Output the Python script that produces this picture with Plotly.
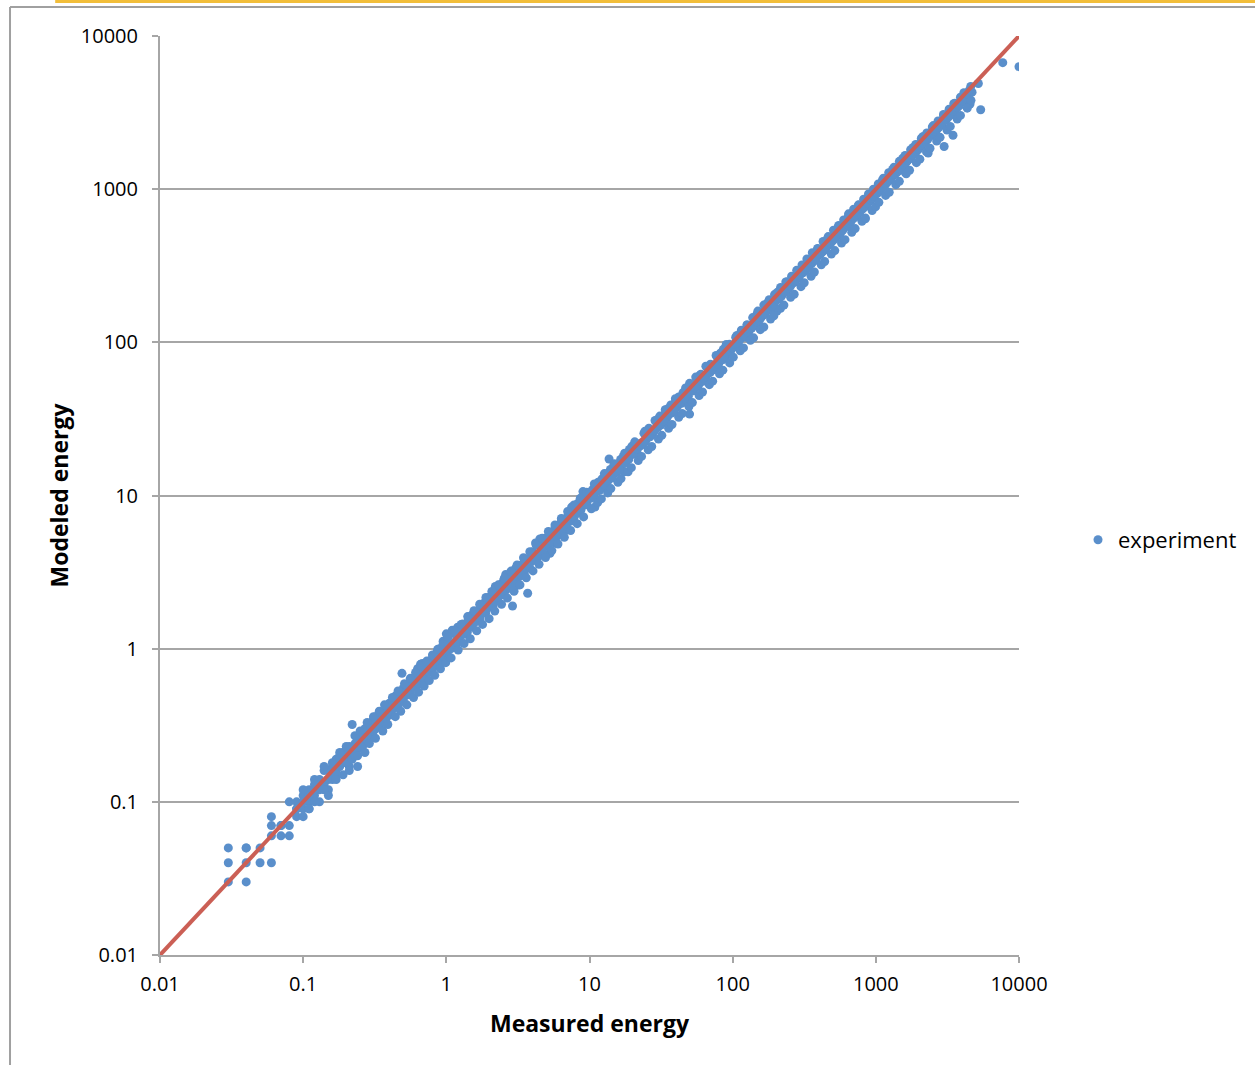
import plotly.graph_objects as go

# Measured vs. modeled energy, one entry per experiment run
measured_energy = [
    # 0.01 - 0.1
    0.03, 0.03, 0.03, 0.04, 0.04, 0.04, 0.04, 0.05, 0.05, 0.06, 0.06, 0.06, 0.06,
    0.07, 0.07, 0.07, 0.08, 0.08, 0.08, 0.09, 0.09, 0.09,
    # 0.1 - 1
    0.10, 0.10, 0.10, 0.11, 0.11, 0.11, 0.12, 0.12, 0.13, 0.13, 0.14, 0.14, 0.15, 0.15,
    0.16, 0.16, 0.17, 0.17, 0.18, 0.18, 0.19, 0.19, 0.20, 0.20, 0.21, 0.21, 0.22, 0.22,
    0.23, 0.23, 0.24, 0.24, 0.25, 0.26, 0.26, 0.27, 0.28, 0.28, 0.29, 0.30, 0.30, 0.31,
    0.32, 0.33, 0.33, 0.34, 0.35, 0.36, 0.37, 0.38, 0.39, 0.40, 0.41, 0.42, 0.43, 0.44,
    0.45, 0.46, 0.47, 0.48, 0.49, 0.50, 0.51, 0.53, 0.55, 0.57, 0.58, 0.60, 0.62, 0.63,
    0.65, 0.66, 0.67, 0.68, 0.70, 0.72, 0.74, 0.75, 0.77, 0.79, 0.80, 0.82, 0.84, 0.86,
    0.88, 0.90, 0.92, 0.95, 0.97, 0.99,
    0.09, 0.10, 0.11, 0.12, 0.13, 0.12, 0.14, 0.15, 0.16, 0.17, 0.18, 0.19, 0.20, 0.21,
    0.22, 0.23, 0.24, 0.25, 0.26, 0.27, 0.28, 0.29, 0.30, 0.31, 0.32, 0.34, 0.35, 0.36,
    0.38, 0.40, 0.41, 0.43, 0.44, 0.46, 0.48, 0.50, 0.52, 0.54, 0.56, 0.58, 0.60, 0.62,
    0.64, 0.66, 0.68, 0.70, 0.73, 0.76, 0.78, 0.81, 0.83, 0.85, 0.88, 0.90, 0.93, 0.96,
    0.98,
    0.10, 0.11, 0.12, 0.13, 0.14, 0.15, 0.16, 0.17, 0.18, 0.19, 0.20, 0.21, 0.23, 0.24,
    0.25, 0.27, 0.28, 0.29, 0.31, 0.32, 0.34, 0.36, 0.37, 0.39, 0.42, 0.44, 0.46, 0.48,
    0.51, 0.53, 0.56, 0.59, 0.61, 0.64, 0.67, 0.70, 0.73, 0.76, 0.80, 0.83, 0.87, 0.91,
    0.95, 0.99,
    # 1 - 10
    1.0, 1.0, 1.05, 1.1, 1.12, 1.18, 1.2, 1.25, 1.3, 1.32, 1.38, 1.42, 1.45, 1.5, 1.55,
    1.6, 1.65, 1.7, 1.75, 1.8, 1.85, 1.9, 1.95, 2.0, 2.1, 2.15, 2.2, 2.25, 2.3, 2.4,
    2.5, 2.55, 2.6, 2.7, 2.8, 2.9, 2.9, 3.0, 3.1, 3.2, 3.3, 3.4, 3.5, 3.6, 3.7, 3.75,
    3.9, 4.0, 4.2, 4.3, 4.5, 4.6, 4.8, 5.0, 5.1, 5.3, 5.5, 5.6, 5.8, 6.0, 6.2, 6.4,
    6.6, 6.8, 7.0, 7.2, 7.5, 7.7, 8.0, 8.3, 8.5, 8.8, 9.0, 9.3, 9.6, 9.8,
    1.02, 1.08, 1.15, 1.2, 1.28, 1.35, 1.4, 1.48, 1.52, 1.6, 1.68, 1.72, 1.8, 1.88,
    1.95, 2.05, 2.12, 2.2, 2.3, 2.35, 2.45, 2.6, 2.65, 2.75, 2.85, 3.0, 3.05, 3.2,
    3.35, 3.5, 3.65, 3.8, 4.0, 4.1, 4.4, 4.5, 4.7, 4.9, 5.2, 5.4, 5.7, 5.9, 6.1, 6.3,
    6.5, 6.9, 7.1, 7.4, 7.8, 8.1, 8.4, 8.7, 9.1, 9.5,
    1.03, 1.08, 1.14, 1.21, 1.27, 1.33, 1.41, 1.47, 1.56, 1.63, 1.71, 1.79, 1.89, 1.99,
    2.08, 2.18, 2.31, 2.43, 2.54, 2.67, 2.83, 2.97, 3.12, 3.27, 3.46, 3.62, 3.83, 4.03,
    4.24, 4.44, 4.67, 4.93, 5.16, 5.46, 5.74, 6.02, 6.36, 6.67, 7.04, 7.38, 7.8, 8.21,
    8.62, 9.1, 9.54,
    # 10 - 100
    10.2, 10.5, 10.9, 11.2, 11.5, 12.0, 12.5, 13.0, 13.3, 13.5, 13.7, 14.2, 14.7, 15.0,
    16.0, 16.5, 17.0, 17.5, 18.0, 18.5, 19.0, 19.5, 20.0, 21.0, 21.5, 22.0, 23.0, 24.0,
    25.0, 26.0, 27.0, 28.0, 29.0, 30.0, 31.0, 32.0, 33.0, 34.0, 35.0, 36.0, 37.0, 38.0,
    40.0, 41.0, 43.0, 45.0, 46.0, 48.0, 50.0, 50.0, 52.0, 54.0, 56.0, 58.0, 60.0, 62.0,
    64.0, 66.0, 68.0, 70.0, 72.0, 75.0, 78.0, 80.0, 83.0, 86.0, 88.0, 92.0, 95.0, 98.0,
    10.0, 10.7, 11.0, 11.8, 12.2, 12.8, 13.5, 14.0, 14.5, 15.5, 16.2, 17.2, 17.8, 18.8,
    19.8, 20.5, 21.5, 22.5, 23.5, 24.5, 25.5, 26.5, 27.5, 28.5, 30.0, 31.5, 33.5, 35.5,
    37.5, 39.0, 42.0, 44.0, 47.0, 49.0, 51.0, 53.0, 55.0, 57.0, 59.0, 61.0, 63.0, 65.0,
    67.0, 70.0, 73.0, 76.0, 79.0, 82.0, 85.0, 89.0, 93.0, 96.0,
    10.3, 10.8, 11.4, 12.1, 12.7, 13.4, 14.1, 14.9, 15.8, 16.6, 17.6, 18.6, 19.6, 20.7,
    21.9, 23.1, 24.4, 25.7, 27.2, 28.7, 30.3, 32.0, 33.8, 35.7, 37.7, 39.8, 42.0, 44.4,
    46.9, 49.5, 52.3, 55.2, 58.3, 61.6, 65.0, 68.7, 72.5, 76.6, 80.9, 85.4, 90.2, 95.3,
    # 100 - 1000
    102, 105, 108, 112, 115, 118, 122, 126, 130, 134, 138, 142, 146, 150, 155, 160,
    165, 170, 175, 180, 185, 190, 196, 200, 204, 210, 216, 222, 228, 235, 242, 250,
    258, 265, 272, 280, 288, 296, 305, 314, 322, 330, 340, 350, 360, 370, 380, 392,
    404, 416, 428, 440, 452, 465, 478, 492, 506, 520, 535, 550, 565, 580, 596, 612,
    628, 645, 662, 680, 700, 718, 738, 758, 778, 800, 822, 845, 845, 868, 890, 914,
    938, 962, 988,
    100, 104, 110, 114, 120, 124, 128, 132, 136, 140, 144, 148, 153, 158, 163, 168,
    172, 178, 183, 188, 194, 198, 207, 213, 219, 225, 232, 238, 246, 254, 262, 270,
    277, 284, 292, 300, 310, 318, 326, 335, 345, 355, 365, 375, 386, 398, 410, 422,
    434, 446, 458, 472, 485, 500, 512, 528, 542, 558, 572, 588, 604, 620, 636, 654,
    672, 690, 708, 728, 748, 768, 790, 811, 833, 856, 880, 902, 926, 950, 975,
    101, 107, 113, 119, 126, 133, 140, 148, 156, 165, 174, 184, 194, 205, 216, 228,
    241, 254, 269, 284, 300, 316, 334, 353, 372, 393, 416, 439, 463, 489, 517, 546,
    576, 609, 643, 679, 717, 757, 800, 844, 892, 942, 995,
    # 1000 - 10000
    1010, 1040, 1070, 1100, 1130, 1160, 1200, 1230, 1270, 1300, 1340, 1380, 1420, 1460,
    1500, 1550, 1600, 1600, 1650, 1700, 1750, 1800, 1850, 1900, 1960, 2020, 2080, 2140,
    2200, 2270, 2320, 2340, 2410, 2480, 2560, 2640, 2720, 2800, 2880, 3000, 2970, 3060,
    3150, 3250, 3350, 3460, 3450, 3560, 3670, 3780, 3900, 4020, 4150, 4400, 4400, 4550,
    4700, 5200, 5400, 7700, 10000,
    1000, 1025, 1055, 1085, 1115, 1145, 1175, 1215, 1250, 1285, 1320, 1360, 1400, 1440,
    1480, 1525, 1575, 1625, 1675, 1725, 1775, 1825, 1875, 1930, 1990, 2050, 2110, 2170,
    2240, 2300, 2380, 2450, 2520, 2600, 2680, 2760, 2840, 2920, 3100, 3200, 3300, 3400,
    3500, 3620, 3720, 3840, 3960, 4080, 4250, 4300, 4480, 4620,
    1050, 1110, 1170, 1240, 1310, 1380, 1460, 1540, 1630, 1720, 1820, 1920, 2030, 2140,
    2260, 2390, 2520, 2660, 2810, 2970, 3140, 3310, 3500, 3700, 3900, 4120, 4350, 4600,
]

modeled_energy = [
    # 0.01 - 0.1
    0.05, 0.04, 0.03, 0.05, 0.05, 0.04, 0.03, 0.05, 0.04, 0.04, 0.08, 0.07, 0.06,
    0.07, 0.06, 0.07, 0.10, 0.07, 0.06, 0.10, 0.08, 0.09,
    # 0.1 - 1
    0.11, 0.09, 0.10, 0.10, 0.12, 0.09, 0.11, 0.14, 0.12, 0.14, 0.13, 0.16, 0.14, 0.12,
    0.15, 0.17, 0.19, 0.16, 0.17, 0.20, 0.18, 0.21, 0.19, 0.22, 0.17, 0.20, 0.32, 0.21,
    0.24, 0.22, 0.17, 0.25, 0.23, 0.27, 0.25, 0.26, 0.31, 0.27, 0.28, 0.32, 0.29, 0.35,
    0.30, 0.34, 0.31, 0.38, 0.33, 0.37, 0.35, 0.41, 0.37, 0.38, 0.43, 0.40, 0.46, 0.42,
    0.48, 0.44, 0.50, 0.45, 0.69, 0.55, 0.49, 0.56, 0.52, 0.62, 0.56, 0.65, 0.60, 0.74,
    0.63, 0.79, 0.70, 0.80, 0.67, 0.78, 0.71, 0.81, 0.74, 0.85, 0.77, 0.90, 0.81, 0.95,
    0.84, 1.00, 0.88, 1.12, 0.93, 1.05,
    0.09, 0.08, 0.11, 0.12, 0.13, 0.10, 0.12, 0.16, 0.14, 0.15, 0.19, 0.20, 0.18, 0.23,
    0.19, 0.20, 0.22, 0.27, 0.23, 0.30, 0.25, 0.32, 0.27, 0.29, 0.36, 0.31, 0.38, 0.33,
    0.35, 0.44, 0.37, 0.41, 0.49, 0.42, 0.52, 0.46, 0.58, 0.50, 0.52, 0.64, 0.56, 0.68,
    0.59, 0.62, 0.74, 0.64, 0.80, 0.70, 0.82, 0.75, 0.88, 0.78, 0.93, 0.82, 0.98, 0.88,
    1.10,
    0.12, 0.09, 0.13, 0.10, 0.17, 0.11, 0.18, 0.14, 0.21, 0.15, 0.23, 0.16, 0.27, 0.20,
    0.29, 0.21, 0.33, 0.24, 0.36, 0.26, 0.39, 0.29, 0.43, 0.32, 0.48, 0.36, 0.53, 0.39,
    0.59, 0.43, 0.64, 0.48, 0.70, 0.52, 0.77, 0.57, 0.83, 0.62, 0.91, 0.67, 0.99, 0.74,
    1.07, 0.81,
    # 1 - 10
    1.25, 0.97, 0.88, 1.32, 1.08, 1.15, 1.38, 1.2, 1.45, 1.26, 1.35, 1.52, 1.4, 1.65, 1.48,
    1.72, 1.58, 1.62, 1.9, 1.74, 2.0, 1.8, 2.15, 1.92, 2.25, 2.0, 2.55, 2.15, 2.45, 2.3,
    2.75, 2.4, 3.05, 2.55, 2.95, 1.9, 2.75, 3.2, 2.9, 2.6, 3.5, 3.2, 3.1, 3.85, 2.3, 3.55,
    4.0, 3.75, 4.9, 4.1, 5.2, 4.3, 4.6, 5.3, 4.7, 4.2, 5.7, 5.1, 4.9, 6.3, 5.8, 7.0,
    6.1, 5.9, 7.2, 6.8, 8.4, 7.0, 7.6, 8.9, 7.9, 8.4, 10.6, 9.0, 8.8, 10.2,
    1.1, 1.0, 1.25, 1.1, 1.35, 1.24, 1.28, 1.55, 1.38, 1.5, 1.78, 1.56, 1.9, 1.7,
    1.85, 2.2, 1.9, 2.05, 2.15, 2.6, 2.25, 2.4, 2.85, 2.5, 2.6, 2.8, 3.35, 2.95,
    3.0, 3.7, 3.35, 3.45, 4.3, 3.8, 4.0, 4.8, 4.3, 5.1, 4.8, 5.0, 6.0, 5.4, 5.6, 6.6,
    6.0, 6.3, 7.5, 6.8, 7.2, 8.5, 7.7, 8.0, 9.5, 8.7,
    1.19, 0.87, 1.31, 0.98, 1.44, 1.08, 1.62, 1.16, 1.77, 1.31, 1.95, 1.44, 2.16, 1.57,
    2.36, 1.76, 2.61, 1.95, 2.88, 2.14, 3.21, 2.37, 3.52, 2.61, 3.92, 2.9, 4.3, 3.22,
    4.76, 3.56, 5.25, 3.94, 5.82, 4.37, 6.43, 4.82, 7.08, 5.33, 7.86, 5.91, 8.68, 6.55,
    9.58, 7.25, 10.5,
    # 10 - 100
    9.6, 10.9, 8.4, 10.6, 12.2, 11.3, 11.8, 13.8, 12.4, 11.0, 17.3, 13.0, 15.5, 14.0,
    15.1, 17.2, 16.0, 14.3, 18.8, 17.1, 20.0, 18.4, 19.2, 22.0, 19.9, 18.3, 22.0, 25.5,
    23.3, 27.5, 25.4, 26.2, 30.5, 27.8, 33.0, 29.5, 31.0, 36.0, 32.5, 34.0, 39.0, 35.0,
    42.0, 38.0, 40.0, 47.0, 43.0, 45.0, 34.0, 54.0, 48.0, 50.0, 58.0, 53.0, 62.0, 57.0,
    56.0, 62.0, 63.0, 72.0, 66.0, 68.0, 80.0, 73.0, 78.0, 90.0, 82.0, 85.0, 97.0, 90.0,
    10.5, 9.8, 11.5, 10.8, 12.8, 11.7, 12.5, 14.8, 13.3, 14.3, 14.8, 18.0, 16.3, 17.2,
    21.0, 18.6, 20.2, 21.0, 21.5, 22.5, 26.5, 24.2, 25.2, 26.5, 31.5, 28.8, 30.5, 37.0,
    34.5, 35.5, 44.0, 40.0, 42.5, 44.5, 53.0, 48.5, 50.5, 52.0, 61.0, 55.5, 58.0, 59.5,
    69.0, 64.0, 66.5, 70.0, 72.0, 85.0, 77.0, 81.0, 95.0, 87.0,
    8.2, 11.9, 9.0, 9.5, 13.9, 10.4, 11.1, 16.1, 12.2, 12.9, 18.9, 14.3, 15.2, 22.4,
    16.9, 18.0, 26.3, 19.9, 20.9, 30.9, 23.4, 24.7, 36.3, 27.5, 29.1, 42.8, 32.4, 34.3,
    50.3, 38.1, 40.4, 59.3, 44.9, 47.4, 69.8, 52.9, 55.8, 82.1, 62.3, 65.8, 96.8, 73.4,
    # 100 - 1000
    95, 108, 100, 104, 120, 110, 113, 130, 118, 125, 145, 130, 138, 160, 142, 150,
    175, 158, 165, 190, 170, 178, 205, 188, 160, 196, 228, 205, 215, 248, 225, 232,
    270, 245, 256, 295, 266, 280, 320, 290, 300, 350, 315, 328, 385, 342, 355, 410,
    375, 388, 455, 408, 420, 490, 445, 458, 540, 485, 500, 580, 525, 540, 630, 570,
    586, 690, 615, 632, 740, 665, 690, 790, 720, 745, 860, 640, 785, 810, 930, 850,
    870, 1000, 920,
    92, 97, 96, 106, 111, 108, 117, 122, 124, 128, 141, 135, 140, 145, 150, 153,
    168, 162, 167, 172, 178, 200, 190, 195, 200, 225, 212, 218, 226, 233, 258, 247,
    254, 262, 268, 296, 284, 292, 300, 308, 340, 326, 335, 345, 355, 392, 376, 388,
    398, 410, 452, 433, 445, 460, 470, 520, 498, 512, 525, 540, 595, 570, 584, 600,
    618, 680, 650, 668, 688, 705, 780, 745, 765, 786, 808, 890, 850, 872, 895,
    80, 111, 88, 92, 130, 103, 107, 153, 121, 126, 180, 142, 149, 212, 167, 175,
    249, 197, 206, 294, 231, 245, 346, 270, 288, 407, 321, 337, 480, 377, 397, 566,
    445, 468, 667, 523, 553, 785, 617, 649, 924, 726, 766,
    # 1000 - 10000
    960, 1080, 990, 1040, 1180, 1080, 1120, 1280, 1180, 1220, 1390, 1290, 1320, 1520,
    1400, 1450, 1290, 1660, 1540, 1580, 1810, 1680, 1720, 1960, 1820, 1880, 2150, 1990,
    2050, 2330, 1720, 2180, 2240, 2550, 2380, 2450, 2790, 2600, 2680, 1900, 3030, 2850,
    2920, 3330, 3100, 2250, 3200, 3640, 3400, 3500, 3980, 3720, 3850, 4120, 3700, 3600,
    4300, 4900, 3300, 6700, 6300,
    1000, 940, 970, 1000, 1025, 1130, 1080, 1115, 1150, 1180, 1300, 1250, 1285, 1320,
    1360, 1500, 1445, 1490, 1540, 1585, 1740, 1675, 1720, 1770, 1830, 2010, 1940, 1990,
    2060, 2110, 2330, 2250, 2310, 2390, 2460, 2530, 2780, 2680, 2840, 2940, 3030, 3330,
    3210, 3320, 3420, 3520, 3870, 3750, 3900, 4200, 4400, 3800,
    820, 1140, 910, 955, 1345, 1070, 1125, 1590, 1260, 1330, 1870, 1490, 1570, 2210,
    1750, 1850, 2600, 2060, 2180, 3070, 2430, 2570, 3610, 2870, 3030, 4260, 3380, 4680,
]

# Reference line y = x across the full axis range
identity_line = [0.01, 10000]

tick_values = [0.01, 0.1, 1, 10, 100, 1000, 10000]
tick_labels = ["0.01", "0.1", "1", "10", "100", "1000", "10000"]

FONT = "Open Sans"
GRID = "#A6A6A6"

fig = go.Figure()

fig.add_trace(go.Scatter(
    x=measured_energy, y=modeled_energy, mode="markers", name="experiment",
    marker=dict(color="#5A8FCB", size=9, line=dict(width=0)),
))

fig.add_trace(go.Scatter(
    x=identity_line, y=identity_line, mode="lines", showlegend=False,
    line=dict(color="#CB5F55", width=4), cliponaxis=False, hoverinfo="skip",
))

axis_common = dict(
    type="log", range=[-2, 4], tickvals=tick_values, ticktext=tick_labels,
    ticks="outside", ticklen=6, tickwidth=2, tickcolor=GRID,
    showline=True, linecolor=GRID, linewidth=2, zeroline=False,
    tickfont=dict(family=FONT, size=20, color="#000000"),
)

fig.update_xaxes(
    **axis_common, showgrid=False, ticklabelstandoff=4,
    title=dict(text="<b>Measured energy</b>", standoff=20,
               font=dict(family=FONT, size=23, color="#000000")),
)
fig.update_yaxes(
    **axis_common, showgrid=True, gridcolor=GRID, gridwidth=2,
    ticklabelstandoff=10,
    title=dict(text="<b>Modeled energy</b>", standoff=6,
               font=dict(family=FONT, size=23, color="#000000")),
)

# Page frame around the chart
frame = dict(type="line", xref="paper", yref="paper", line=dict(color="#A0A0A0", width=2))
fig.add_shape(**frame, x0=-0.1746, x1=1.28, y0=1.0316, y1=1.0316)
fig.add_shape(**frame, x0=-0.1746, x1=-0.1746, y0=1.0316, y1=-0.13)
fig.add_shape(type="line", xref="paper", yref="paper", x0=-0.122, x1=1.28,
              y0=1.0375, y1=1.0375, line=dict(color="#F2BE3A", width=3))

fig.update_layout(
    width=1255, height=1065,
    margin=dict(l=160, r=236, t=36, b=110),
    paper_bgcolor="#FFFFFF", plot_bgcolor="#FFFFFF",
    font=dict(family=FONT, color="#000000"),
    showlegend=True,
    legend=dict(x=1.0687, y=0.4516, xanchor="left", yanchor="middle",
                font=dict(family=FONT, size=22, color="#000000"),
                itemwidth=30, bgcolor="rgba(0,0,0,0)"),
)

fig.write_html("out.html")
